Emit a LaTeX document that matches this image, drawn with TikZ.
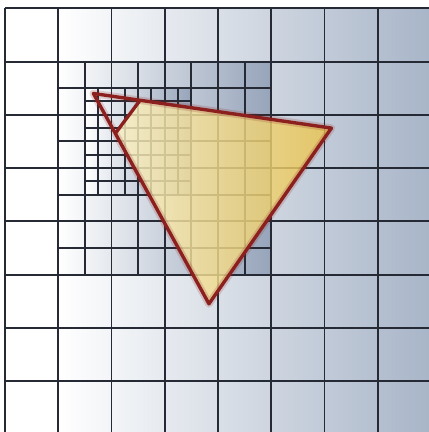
\documentclass[tikz,border=0pt]{standalone}
\usetikzlibrary{calc}

\definecolor{gridline}{RGB}{38,42,52}
\definecolor{steel}{RGB}{168,181,200}
\definecolor{steeldark}{RGB}{150,164,186}
\definecolor{triedge}{RGB}{140,32,30}
\definecolor{triyellowL}{RGB}{250,240,196}
\definecolor{triyellowR}{RGB}{234,196,78}

\begin{document}
\begin{tikzpicture}[
    cell/.style={draw=gridline, line width=1.05pt},
    tri/.style={draw=triedge, line width=1.8pt, line join=round},
    glow/.style={draw=triedge, line width=4pt, opacity=0.18, line join=round}
]
\useasboundingbox (-0.094,0.043) rectangle (7.962,8.156);
\clip (-0.094,0.043) rectangle (7.962,8.156);

% background shading
\fill[white] (-0.2,-0.2) rectangle (8.2,8.2);
\shade[left color=white, right color=steel] (1,-0.2) rectangle (8,8);
\shade[left color=white, right color=steeldark] (1,3) rectangle (5,7);
\shade[left color=white, right color=steeldark] (1.5,4.5) rectangle (3.5,6.5);

% coarse grid
\foreach \i in {0,...,8} {
    \draw[cell] (\i,-0.2) -- (\i,8);
    \draw[cell] (0,\i) -- (8.2,\i);
}
% half cells
\foreach \i in {1.5,2.5,3.5,4.5} {
    \draw[cell] (\i,3) -- (\i,7);
    \draw[cell] (1,\i+2) -- (5,\i+2);
}
% quarter cells
\foreach \i in {1.75,2.25,2.75,3.25} {
    \draw[cell] (\i,4.5) -- (\i,6.5);
    \draw[cell] (1.5,\i+3) -- (3.5,\i+3);
}

% triangle
\coordinate (A) at (1.66,6.40);
\coordinate (B) at (6.13,5.75);
\coordinate (C) at (3.83,2.45);
\coordinate (P) at ($(A)!0.196!(B)$);
\coordinate (Q) at ($(A)!0.19!(C)$);

\shade[left color=triyellowL, right color=triyellowR, fill opacity=0.82]
    (P) -- (B) -- (C) -- (Q) -- cycle;
\draw[glow] (A) -- (B) -- (C) -- cycle;
\draw[tri] (A) -- (B) -- (C) -- cycle;
\draw[tri] (P) -- (Q);
\end{tikzpicture}
\end{document}
